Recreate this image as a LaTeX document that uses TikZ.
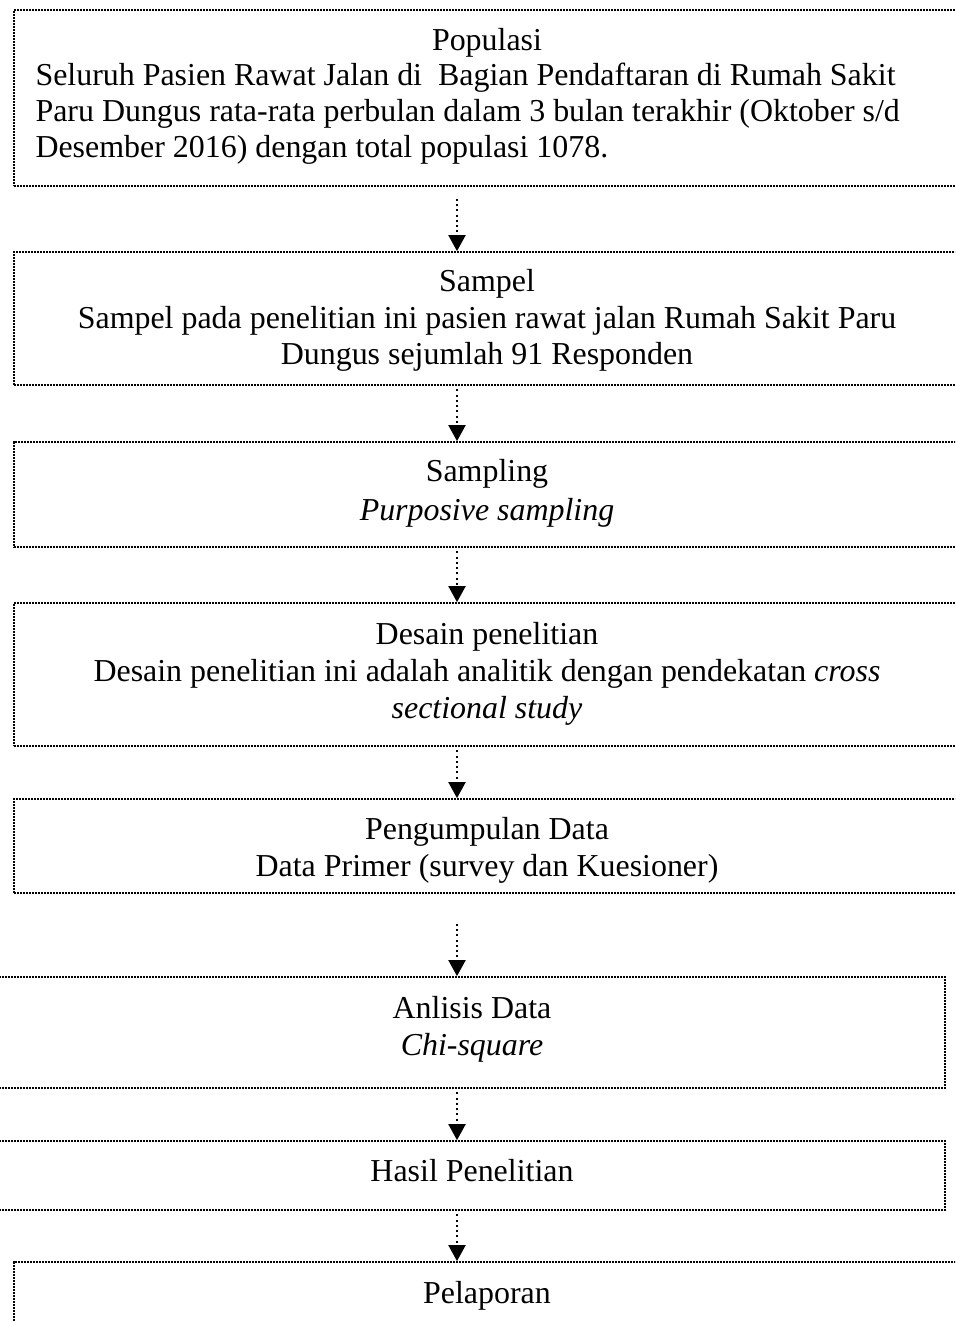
\documentclass[tikz,border=0pt]{standalone}
\usepackage{fontspec}
\setmainfont{Liberation Serif}
\usetikzlibrary{arrows.meta}
\begin{document}
\begin{tikzpicture}[x=0.4pt,y=-0.4pt,
  box/.style={draw, line width=0.7pt, dash pattern=on 0.8pt off 0.4pt, inner sep=0pt, rectangle},
  txt/.style={font=\fontsize{12.77}{14.6}\selectfont, inner sep=0pt, anchor=base},
  flow/.style={line width=0.8pt, dash pattern=on 0.8pt off 1.3pt, -{Triangle[width=6.8pt,length=6.4pt]}}]
\clip (0,0) rectangle (955,1322);
\useasboundingbox (0,0) rectangle (955,1322);
\coordinate (ax) at (457,0);
% boxes
\node[box, minimum width=380.4pt, minimum height=70.4pt] (b1) at (489.5,98) {};
\node[box, minimum width=380.4pt, minimum height=53.2pt] (b2) at (489.5,318.5) {};
\node[box, minimum width=380.4pt, minimum height=42pt] (b3) at (489.5,494.5) {};
\node[box, minimum width=380.4pt, minimum height=57.2pt] (b4) at (489.5,674.5) {};
\node[box, minimum width=380.4pt, minimum height=37.6pt] (b5) at (489.5,846) {};
\node[box, minimum width=382pt, minimum height=44.4pt] (b6) at (467.5,1032.5) {};
\node[box, minimum width=382pt, minimum height=27.6pt] (b7) at (467.5,1175.5) {};
\node[box, minimum width=380.4pt, minimum height=31.2pt] (b8) at (489.5,1301) {};
% texts
\node[txt] (t1a) at (487,50) {Populasi};
\node[txt, anchor=base west] (t1b) at (35,85) {Seluruh Pasien Rawat Jalan di~ Bagian Pendaftaran di Rumah Sakit};
\node[txt, anchor=base west] (t1c) at (35,121) {Paru Dungus rata-rata perbulan dalam 3 bulan terakhir (Oktober s/d};
\node[txt, anchor=base west] (t1d) at (35,157) {Desember 2016) dengan total populasi 1078.};
\node[txt] (t2a) at (487,291) {Sampel};
\node[txt] (t2b) at (487,328) {Sampel pada penelitian ini pasien rawat jalan Rumah Sakit Paru};
\node[txt] (t2c) at (487,364) {Dungus sejumlah 91 Responden};
\node[txt] (t3a) at (487,481) {Sampling};
\node[txt] (t3b) at (487,520) {\itshape Purposive sampling};
\node[txt] (t4a) at (487,644) {Desain penelitian};
\node[txt] (t4b) at (487,681) {Desain penelitian ini adalah analitik dengan pendekatan \textit{cross}};
\node[txt] (t4c) at (487,718) {\itshape sectional study};
\node[txt] (t5a) at (487,839) {Pengumpulan Data};
\node[txt] (t5b) at (487,876) {Data Primer (survey dan Kuesioner)};
\node[txt] (t6a) at (472,1018) {Anlisis Data};
\node[txt] (t6b) at (472,1055) {\itshape Chi-square};
\node[txt] (t7a) at (472,1181) {Hasil Penelitian};
\node[txt] (t8a) at (487,1303) {Pelaporan};
% arrows
\draw[flow, shorten <=4.8pt] (b1.south -| ax) -- (b2.north -| ax);
\draw[flow, shorten <=1.4pt] (b2.south -| ax) -- (b3.north -| ax);
\draw[flow, shorten <=1.4pt] (b3.south -| ax) -- (b4.north -| ax);
\draw[flow, shorten <=1.4pt] (b4.south -| ax) -- (b5.north -| ax);
\draw[flow, shorten <=12pt] (b5.south -| ax) -- (b6.north -| ax);
\draw[flow, shorten <=1.4pt] (b6.south -| ax) -- (b7.north -| ax);
\draw[flow, shorten <=1.4pt] (b7.south -| ax) -- (b8.north -| ax);
\end{tikzpicture}
\end{document}
